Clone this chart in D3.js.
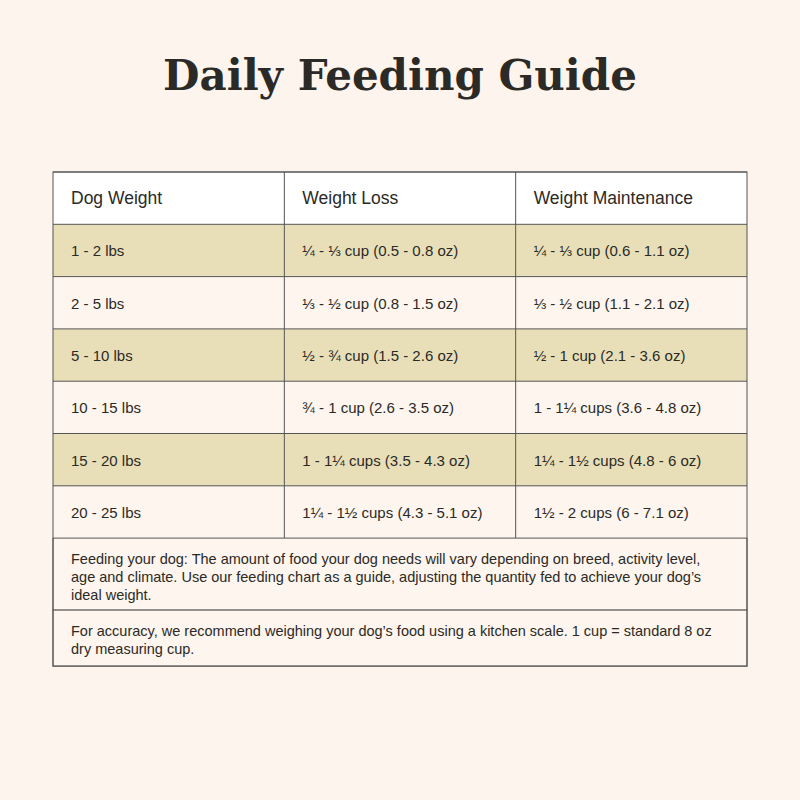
<!DOCTYPE html>
<html><head><meta charset="utf-8">
<script src="https://cdn.jsdelivr.net/npm/d3@7"></script>
<style>body{margin:0;background:#fdf4ee}</style></head>
<body><svg id="c" width="800" height="800"></svg>
<script>
const title = "Daily Feeding Guide";
const headers = ["Dog Weight", "Weight Loss", "Weight Maintenance"];
const weights = ["1 - 2 lbs","2 - 5 lbs","5 - 10 lbs","10 - 15 lbs","15 - 20 lbs","20 - 25 lbs"];
const lossAmounts = ["¼ - ⅓ cup (0.5 - 0.8 oz)","⅓ - ½ cup (0.8 - 1.5 oz)","½ - ¾ cup (1.5 - 2.6 oz)","¾ - 1 cup (2.6 - 3.5 oz)","1 - 1¼ cups (3.5 - 4.3 oz)","1¼ - 1½ cups (4.3 - 5.1 oz)"];
const maintenanceAmounts = ["¼ - ⅓ cup (0.6 - 1.1 oz)","⅓ - ½ cup (1.1 - 2.1 oz)","½ - 1 cup (2.1 - 3.6 oz)","1 - 1¼ cups (3.6 - 4.8 oz)","1¼ - 1½ cups (4.8 - 6 oz)","1½ - 2 cups (6 - 7.1 oz)"];
const notes = [
 ["Feeding your dog: The amount of food your dog needs will vary depending on breed, activity level,","age and climate. Use our feeding chart as a guide, adjusting the quantity fed to achieve your dog’s","ideal weight."],
 ["For accuracy, we recommend weighing your dog’s food using a kitchen scale. 1 cup = standard 8 oz","dry measuring cup."]
];
const svg = d3.select("#c");
svg.append("rect").attr("width",800).attr("height",800).attr("fill","#fdf4ee");
svg.append("text").attr("x",400).attr("y",90).attr("text-anchor","middle")
 .attr("font-family","'DejaVu Serif', serif").attr("font-size",42).attr("font-weight",600).attr("fill","#2b2a26").text(title);
const L=53,R=747,T=172,RH=52.3;
const x = d3.scaleBand().domain([0,1,2]).range([L,R]);
const rowKeys = ["h",...weights];
const y = d3.scaleBand().domain(rowKeys).range([T,T+RH*7]);
const font = "'Liberation Sans', Arial, sans-serif";
const g = svg.append("g");
rowKeys.forEach((k,i)=>{
  g.append("rect").attr("x",L).attr("y",y(k)).attr("width",R-L).attr("height",y.bandwidth())
   .attr("fill", i===0 ? "#ffffff" : (i%2===1 ? "#e8dfb8" : "#fdf5ee"));
  const vals = i===0 ? headers : [weights[i-1], lossAmounts[i-1], maintenanceAmounts[i-1]];
  vals.forEach((v,j)=>{
    g.append("text").attr("x",x(j)+18).attr("y",y(k)+y.bandwidth()/2+6)
     .attr("font-family",font).attr("font-size",i===0?17.5:15).attr("fill","#2b2a26").text(v);
  });
});
const bottomTable = T+RH*7;
const noteH=[72,56];
let ny=bottomTable;
notes.forEach((lines,n)=>{
  g.append("rect").attr("x",L).attr("y",ny).attr("width",R-L).attr("height",noteH[n]).attr("fill","#fdf5ee")
   .attr("stroke","#555").attr("stroke-width",1);
  lines.forEach((ln,li)=>g.append("text").attr("x",L+18).attr("y",ny+26+li*18)
   .attr("font-family",font).attr("font-size",14.5).attr("fill","#2b2a26").text(ln));
  ny+=noteH[n];
});
rowKeys.forEach(k=>{
  g.append("line").attr("x1",L).attr("x2",R).attr("y1",y(k)).attr("y2",y(k)).attr("stroke","#555");
});
[1,2].forEach(j=>g.append("line").attr("x1",x(j)).attr("x2",x(j)).attr("y1",T).attr("y2",bottomTable).attr("stroke","#555"));
g.append("rect").attr("x",L).attr("y",T).attr("width",R-L).attr("height",ny-T).attr("fill","none").attr("stroke","#555");
</script></body></html>
